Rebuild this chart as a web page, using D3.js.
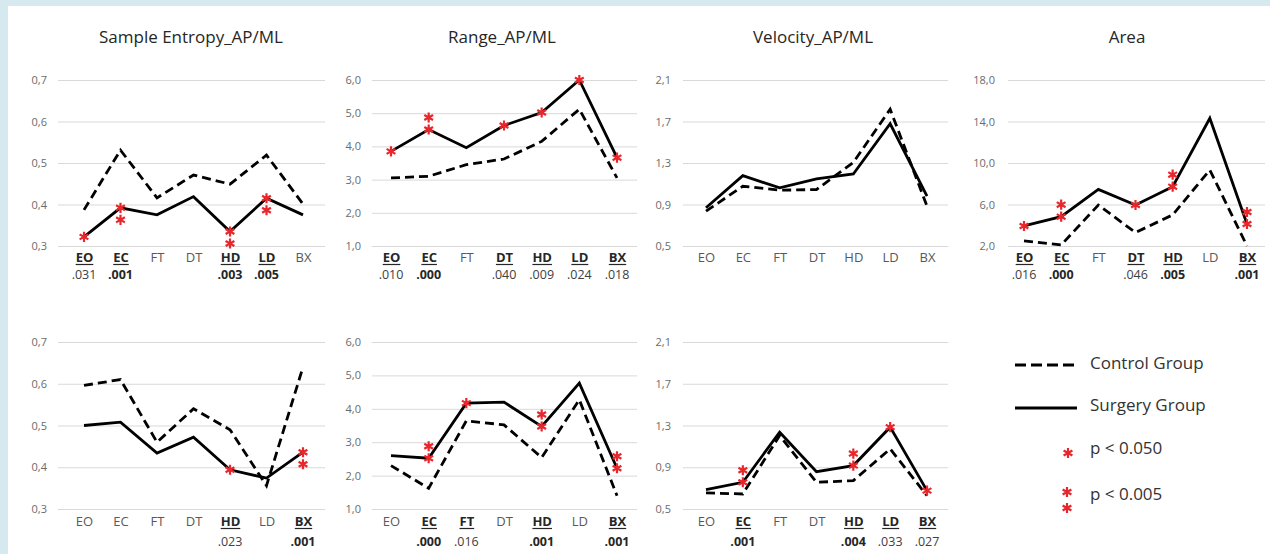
<!DOCTYPE html>
<html>
<head>
<meta charset="utf-8">
<script src="https://cdn.jsdelivr.net/npm/d3@7"></script>
<style>
  body { margin: 0; background: #fff; }
  svg { display: block; font-family: "Open Sans", Lato, sans-serif; }
</style>
</head>
<body>
<div id="chart"></div>
<script>
// categories on every panel
const categories = ["EO", "EC", "FT", "DT", "HD", "LD", "BX"];

// tick values
const seTicks = [0.3, 0.4, 0.5, 0.6, 0.7];
const rangeTicks = [1, 2, 3, 4, 5, 6];
const velTicks = [0.5, 0.9, 1.3, 1.7, 2.1];
const areaTicks = [2, 6, 10, 14, 18];

// top row values
const seTopControl = [0.387, 0.531, 0.416, 0.471, 0.449, 0.519, 0.401];
const seTopSurgery = [0.322, 0.392, 0.375, 0.419, 0.335, 0.415, 0.375];
const rangeTopControl = [3.05, 3.10, 3.45, 3.62, 4.15, 5.12, 3.05];
const rangeTopSurgery = [3.85, 4.51, 3.96, 4.63, 5.02, 6.0, 3.66];
const velTopControl = [0.836, 1.076, 1.038, 1.044, 1.306, 1.818, 0.884];
const velTopSurgery = [0.868, 1.178, 1.06, 1.146, 1.194, 1.678, 0.98];
const areaControl = [2.5, 2.1, 5.95, 3.3, 5.0, 9.33, 2.0];
const areaSurgery = [3.93, 4.83, 7.46, 5.95, 7.72, 14.31, 4.12];

// bottom row values
const seBotControl = [0.596, 0.61, 0.46, 0.54, 0.49, 0.356, 0.64];
const seBotSurgery = [0.5, 0.508, 0.434, 0.472, 0.394, 0.374, 0.436];
const rangeBotControl = [2.3, 1.62, 3.64, 3.52, 2.54, 4.27, 1.4];
const rangeBotSurgery = [2.6, 2.52, 4.17, 4.2, 3.47, 4.77, 2.22];
const velBotControl = [0.654, 0.644, 1.204, 0.756, 0.772, 1.076, 0.628];
const velBotSurgery = [0.686, 0.756, 1.236, 0.858, 0.916, 1.284, 0.676];

// number of significance stars per category
const seTopStars = [1, 2, 0, 0, 2, 2, 0];
const rangeTopStars = [1, 2, 0, 1, 1, 1, 1];
const velTopStars = [0, 0, 0, 0, 0, 0, 0];
const areaStars = [1, 2, 0, 1, 2, 0, 2];
const seBotStars = [0, 0, 0, 0, 1, 0, 2];
const rangeBotStars = [0, 2, 1, 0, 2, 0, 2];
const velBotStars = [0, 2, 0, 0, 2, 1, 1];

// p-values under the categories
const seTopP = [".031", ".001", "", "", ".003", ".005", ""];
const rangeTopP = [".010", ".000", "", ".040", ".009", ".024", ".018"];
const velTopP = ["", "", "", "", "", "", ""];
const areaP = [".016", ".000", "", ".046", ".005", "", ".001"];
const seBotP = ["", "", "", "", ".023", "", ".001"];
const rangeBotP = ["", ".000", ".016", "", ".001", "", ".001"];
const velBotP = ["", ".001", "", "", ".004", ".033", ".027"];

const titles = ["Sample Entropy_AP/ML", "Range_AP/ML", "Velocity_AP/ML", "Area"];

//layout
const W = 1270, H = 554;
const cols = [
  {gx0: 58, gx1: 325, cx0: 84, cx1: 303, lx: 47, tx: 191},
  {gx0: 372, gx1: 637, cx0: 391, cx1: 617, lx: 361, tx: 502},
  {gx0: 683, gx1: 948, cx0: 706, cx1: 927, lx: 671, tx: 813},
  {gx0: 1008, gx1: 1265, cx0: 1024, cx1: 1247, lx: 995, tx: 1127}
];
const rows = [{y0: 80, y1: 246, cy: 12, py: 30}, {y0: 342, y1: 509, cy: 13, py: 34}];

const panels = [
  {col: 0, row: 0, ticks: seTicks, control: seTopControl, surgery: seTopSurgery, stars: seTopStars, dir: 1, p: seTopP},
  {col: 1, row: 0, ticks: rangeTicks, control: rangeTopControl, surgery: rangeTopSurgery, stars: rangeTopStars, dir: -1, p: rangeTopP},
  {col: 2, row: 0, ticks: velTicks, control: velTopControl, surgery: velTopSurgery, stars: velTopStars, dir: -1, p: velTopP},
  {col: 3, row: 0, ticks: areaTicks, control: areaControl, surgery: areaSurgery, stars: areaStars, dir: -1, p: areaP},
  {col: 0, row: 1, ticks: seTicks, control: seBotControl, surgery: seBotSurgery, stars: seBotStars, dir: 1, p: seBotP},
  {col: 1, row: 1, ticks: rangeTicks, control: rangeBotControl, surgery: rangeBotSurgery, stars: rangeBotStars, dir: -1, p: rangeBotP},
  {col: 2, row: 1, ticks: velTicks, control: velBotControl, surgery: velBotSurgery, stars: velBotStars, dir: -1, p: velBotP}
];

const red = "#e8262b";
const star = d3.symbol(d3.symbolAsterisk, 72);
const fmt = v => d3.format(".1f")(v).replace(".", ",");

const svg = d3.select("#chart").append("svg")
  .attr("width", W)
  .attr("height", H);

//frame
svg.append("rect").attr("width", W).attr("height", H).attr("fill", "#d5e9ef");
svg.append("rect").attr("x", 8).attr("y", 6).attr("width", W - 8).attr("height", H - 6).attr("fill", "#fff");

//titles
svg.selectAll(".title")
  .data(titles)
  .enter().append("text")
  .attr("class", "title")
  .attr("x", (d, i) => cols[i].tx)
  .attr("y", 43)
  .attr("text-anchor", "middle")
  .attr("font-size", 17)
  .attr("fill", "#262626")
  .text(d => d);

panels.forEach(p => {
  const c = cols[p.col], r = rows[p.row];
  const g = svg.append("g");

  const x = d3.scalePoint().domain(categories).range([c.cx0, c.cx1]);
  const y = d3.scaleLinear().domain(d3.extent(p.ticks)).range([r.y1, r.y0]);

  //y axis + gridlines
  const ya = g.append("g")
    .attr("transform", `translate(${c.gx0},0)`)
    .call(d3.axisLeft(y).tickValues(p.ticks).tickFormat(fmt)
      .tickSize(-(c.gx1 - c.gx0)).tickPadding(c.gx0 - c.lx));
  ya.select(".domain").remove();
  ya.selectAll("line").attr("stroke", "#d9d9d9");
  ya.selectAll("text").attr("font-size", 11).attr("fill", "#6b6b6b")
    .attr("font-family", "'Open Sans', sans-serif");

  //category labels
  const xa = g.append("g")
    .attr("transform", `translate(0,${r.y1})`)
    .call(d3.axisBottom(x).tickSize(0).tickPadding(r.cy - 5));
  xa.select(".domain").remove();
  xa.selectAll("text")
    .attr("font-size", 13)
    .attr("font-family", "'Open Sans', sans-serif")
    .attr("font-weight", (d, i) => p.p[i] ? "bold" : "normal")
    .attr("fill", (d, i) => p.p[i] ? "#262626" : "#595959")
    .each(function(d, i) {
      if (!p.p[i]) return;
      const w = this.getComputedTextLength();
      d3.select(this.parentNode).append("line")
        .attr("x1", -w / 2).attr("x2", w / 2)
        .attr("y1", r.cy + 6.5).attr("y2", r.cy + 6.5)
        .attr("stroke", "#262626").attr("stroke-width", 1.2);
    });

  //p-values
  g.selectAll(".pv")
    .data(categories)
    .enter().append("text")
    .attr("class", "pv")
    .attr("x", d => x(d))
    .attr("y", r.y1 + r.py)
    .attr("text-anchor", "middle")
    .attr("dominant-baseline", "middle")
    .attr("font-size", 12.5)
    .attr("font-weight", (d, i) => p.stars[i] === 2 ? "bold" : "normal")
    .attr("fill", (d, i) => p.stars[i] === 2 ? "#262626" : "#404040")
    .text((d, i) => p.p[i]);

  //lines
  const line = d3.line().x((d, i) => x(categories[i])).y(d => y(d));
  g.append("path")
    .datum(p.control)
    .attr("d", line)
    .attr("fill", "none")
    .attr("stroke", "#000")
    .attr("stroke-width", 2.8)
    .attr("stroke-dasharray", "9,5");
  g.append("path")
    .datum(p.surgery)
    .attr("d", line)
    .attr("fill", "none")
    .attr("stroke", "#000")
    .attr("stroke-width", 2.8);

  //stars
  const marks = [];
  p.stars.forEach((n, i) => {
    for (let k = 0; k < n; k++) marks.push({cat: categories[i], v: p.surgery[i], k: k});
  });
  g.selectAll(".star")
    .data(marks)
    .enter().append("path")
    .attr("class", "star")
    .attr("d", star)
    .attr("transform", d => `translate(${x(d.cat)},${y(d.v) + d.k * 12 * p.dir})`)
    .attr("fill", "none")
    .attr("stroke", red)
    .attr("stroke-width", 2.2);
});

//legend
const lg = svg.append("g");
lg.append("line").attr("x1", 1015).attr("x2", 1077).attr("y1", 365).attr("y2", 365)
  .attr("stroke", "#000").attr("stroke-width", 3).attr("stroke-dasharray", "11,5");
lg.append("line").attr("x1", 1015).attr("x2", 1077).attr("y1", 408).attr("y2", 408)
  .attr("stroke", "#000").attr("stroke-width", 3);
const legendText = ["Control Group", "Surgery Group", "p < 0.050", "p < 0.005"];
const legendY = [364, 406, 449, 495];
lg.selectAll("text")
  .data(legendText)
  .enter().append("text")
  .attr("x", 1090)
  .attr("y", (d, i) => legendY[i])
  .attr("dominant-baseline", "middle")
  .attr("font-size", 17)
  .attr("fill", "#333")
  .text(d => d);
lg.selectAll(".lstar")
  .data([[1068, 453], [1067, 492], [1067, 508]])
  .enter().append("path")
  .attr("class", "lstar")
  .attr("d", star)
  .attr("transform", d => `translate(${d[0]},${d[1]})`)
  .attr("fill", "none")
  .attr("stroke", red)
  .attr("stroke-width", 2.2);
</script>
</body>
</html>
